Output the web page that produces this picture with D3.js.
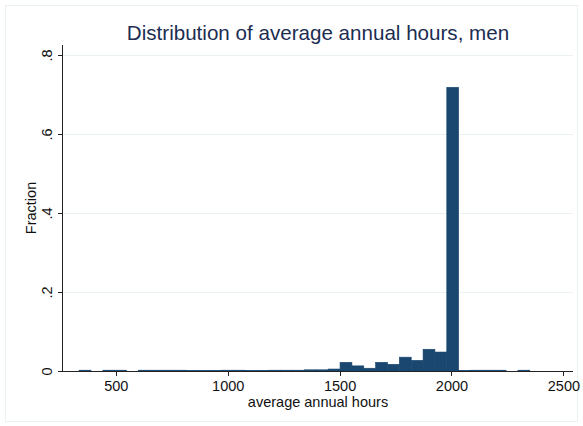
<!DOCTYPE html>
<html>
<head>
  <meta charset="UTF-8">
  <title>Distribution of average annual hours, men</title>
  <script src="https://cdn.jsdelivr.net/npm/d3@7"></script>
  <style>
    body {
      margin: 0;
      background: #fff;
    }
    svg text {
      font-family: "Liberation Sans", Arial, Helvetica, sans-serif;
    }
    .grid line {
      stroke: #eaf1f3;
      stroke-width: 1px;
      shape-rendering: crispEdges;
    }
    .axis path,
    .axis line {
      stroke: #222;
      shape-rendering: crispEdges;
    }
    .axis text {
      font-size: 14.5px;
      fill: #111;
    }
  </style>
</head>
<body>
  <div id="chart"></div>
  <script>
    // histogram bins: left edge of first bin and width (hours)
    var binStart = 336;
    var binWidth = 53;
    // fraction in each bin
    var fractions = [
      0.002, 0, 0.002, 0.002, 0,
      0.002, 0.002, 0.002, 0.002, 0.001, 0.001, 0.001, 0.002,
      0.002, 0.001, 0.001, 0.002, 0.002, 0.002, 0.003, 0.003,
      0.005, 0.022, 0.013, 0.007, 0.022, 0.017, 0.035, 0.027,
      0.055, 0.048, 0.718,
      0.001, 0.002, 0.002, 0.002, 0, 0.002
    ];
    var xTicks = [500, 1000, 1500, 2000, 2500];
    var yTicks = [0, 0.2, 0.4, 0.6, 0.8];
    var yTickLabels = ["0", ".2", ".4", ".6", ".8"];

    var width = 583;
    var height = 426;
    var plot = { left: 63, right: 573, top: 45, bottom: 371 };

    var bins = fractions.map(function(v, i) {
      return { x0: binStart + i * binWidth, x1: binStart + (i + 1) * binWidth, value: v };
    });

    /* Scales */
    var xScale = d3.scaleLinear()
      .domain([264, 2543])
      .range([plot.left, plot.right]);

    var yScale = d3.scaleLinear()
      .domain([0, 0.825])
      .range([plot.bottom, plot.top]);

    var svg = d3.select("#chart").append("svg")
      .attr("width", width)
      .attr("height", height);

    // outer frame
    svg.append("rect")
      .attr("x", 5.5)
      .attr("y", 5.5)
      .attr("width", width - 11)
      .attr("height", height - 10)
      .attr("fill", "#fff")
      .attr("stroke", "#eaf1f3");

    /* Grid lines */
    svg.append("g")
      .attr("class", "grid")
      .selectAll("line")
      .data(yTicks.filter(function(d) { return d > 0; }))
      .enter().append("line")
      .attr("x1", plot.left)
      .attr("x2", plot.right)
      .attr("y1", function(d) { return Math.round(yScale(d)) + 0.5; })
      .attr("y2", function(d) { return Math.round(yScale(d)) + 0.5; });

    /* Bars */
    svg.append("g")
      .selectAll("rect")
      .data(bins.filter(function(d) { return d.value > 0; }))
      .enter().append("rect")
      .attr("x", function(d) { return xScale(d.x0); })
      .attr("width", function(d) { return xScale(d.x1) - xScale(d.x0); })
      .attr("y", function(d) { return yScale(d.value); })
      .attr("height", function(d) { return yScale(0) - yScale(d.value); })
      .attr("fill", "#1a476f")
      .attr("stroke", "#1a476f")
      .attr("stroke-width", 0.6);

    /* Axes */
    var xAxis = d3.axisBottom(xScale)
      .tickValues(xTicks)
      .tickFormat(d3.format("d"))
      .tickSize(5)
      .tickPadding(5)
      .tickSizeOuter(0);

    var gx = svg.append("g")
      .attr("class", "x axis")
      .attr("transform", "translate(0," + plot.bottom + ")")
      .call(xAxis);
    gx.select(".domain").attr("d", "M" + plot.left + ",0.5H" + plot.right);

    var yAxis = d3.axisLeft(yScale)
      .tickValues(yTicks)
      .tickFormat(function(d, i) { return yTickLabels[i]; })
      .tickSize(5)
      .tickSizeOuter(0);

    var gy = svg.append("g")
      .attr("class", "y axis")
      .attr("transform", "translate(" + plot.left + ",0)")
      .call(yAxis);
    gy.select(".domain").attr("d", "M-0.5," + plot.top + "V" + (plot.bottom + 1));
    gy.selectAll(".tick text")
      .attr("x", null)
      .attr("dy", null)
      .attr("text-anchor", "middle")
      .attr("transform", "translate(-11,0) rotate(-90)");

    /* Axis titles */
    svg.append("text")
      .attr("x", (plot.left + plot.right) / 2)
      .attr("y", 407)
      .attr("text-anchor", "middle")
      .attr("font-size", "14.5px")
      .attr("fill", "#111")
      .text("average annual hours");

    svg.append("text")
      .attr("transform", "translate(35.5," + ((plot.top + plot.bottom) / 2) + ") rotate(-90)")
      .attr("text-anchor", "middle")
      .attr("font-size", "14.5px")
      .attr("fill", "#111")
      .text("Fraction");

    /* Title */
    svg.append("text")
      .attr("x", (plot.left + plot.right) / 2)
      .attr("y", 39.5)
      .attr("text-anchor", "middle")
      .attr("font-size", "20.6px")
      .attr("fill", "#1c2d52")
      .text("Distribution of average annual hours, men");
  </script>
</body>
</html>
